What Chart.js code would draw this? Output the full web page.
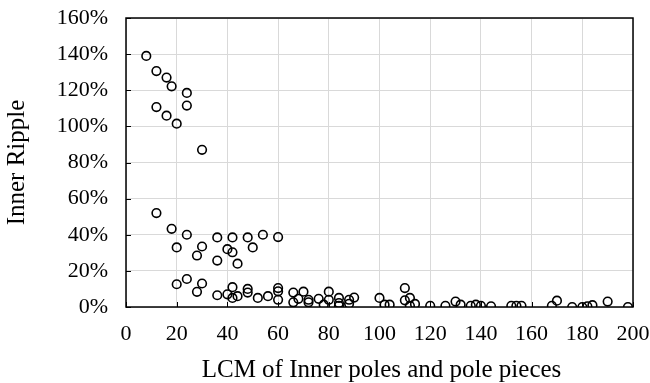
<!DOCTYPE html>
<html>
<head>
<meta charset="utf-8">
<script src="https://cdn.jsdelivr.net/npm/chart.js@4/dist/chart.umd.min.js"></script>
<style>
  html, body { margin: 0; padding: 0; background: #fff; }
  #wrap { width: 650px; height: 383px; }
</style>
</head>
<body>
<div id="wrap"><canvas id="chart"></canvas></div>
<script>
// LCM values (x) and inner ripple in % (y)
const lcmValues = [
    8, 12, 16, 18, 24, 24, 12, 16, 20, 30,
    12, 18, 24, 20, 30, 28, 36, 36, 42, 40, 42, 44, 48, 50, 54, 60,
    20, 24, 30, 28, 36, 40, 42, 42, 44, 48, 48, 52, 56, 60, 60, 60,
    66, 66, 68, 70, 72, 72, 76, 78, 80, 80, 84, 84, 84, 88, 88, 90,
    100, 102, 104, 110, 110, 112, 112, 114, 120, 126, 130, 132, 136, 138, 140, 144,
    152, 154, 156, 168, 170, 176, 180, 182, 184, 190, 198
];
const rippleValues = [
    139, 130.6, 127, 122.2, 118.5, 111.5, 110.7, 105.9, 101.5, 87,
    52, 43.3, 40, 33, 33.5, 28.5, 38.5, 25.7, 38.5, 32, 30.3, 24, 38.5, 33, 40, 38.7,
    12.6, 15.5, 13, 8.4, 6.5, 7, 11, 5, 6, 10, 8, 5, 6, 10.5, 8.7, 4,
    8, 2.6, 4.5, 8.5, 4, 2.6, 4.5, 1.3, 8.5, 4, 5, 2.2, 0.7, 4, 1.8, 5.2,
    5, 1.3, 1.3, 10.5, 3.7, 5, 0.7, 1.7, 0.7, 0.7, 3, 1.3, 0.7, 1.3, 0.7, 0.4,
    0.7, 0.7, 0.7, 0.7, 3.5, 0, 0, 0.4, 1, 3, 0
];
const xTitle = 'LCM of Inner poles and pole pieces';
const yTitle = 'Inner Ripple';

const points = lcmValues.map((x, i) => ({ x: x, y: rippleValues[i] }));
const serif = "'Liberation Serif', 'DejaVu Serif', serif";

// box round the plot, inward tick marks and the x title
const framePlugin = {
    id: 'frame',
    afterDatasetsDraw(chart) {
        const { ctx, chartArea: a, scales } = chart;
        ctx.save();
        ctx.strokeStyle = '#000';
        ctx.lineWidth = 1;
        ctx.beginPath();
        scales.y.ticks.forEach(t => {
            const py = Math.round(scales.y.getPixelForValue(t.value)) + 0.5;
            ctx.moveTo(a.left, py);
            ctx.lineTo(a.left + 5, py);
        });
        scales.x.ticks.forEach(t => {
            const px = Math.round(scales.x.getPixelForValue(t.value)) + 0.5;
            ctx.moveTo(px, a.bottom);
            ctx.lineTo(px, a.bottom - 5);
        });
        ctx.stroke();
        ctx.lineWidth = 1.5;
        ctx.strokeRect(a.left, a.top, a.right - a.left, a.bottom - a.top);

        ctx.fillStyle = '#000';
        ctx.font = '25px ' + serif;
        ctx.textAlign = 'center';
        ctx.textBaseline = 'alphabetic';
        ctx.fillText(xTitle, (a.left + a.right) / 2 + 2, 377);
        ctx.restore();
    }
};

new Chart(document.getElementById('chart'), {
    type: 'scatter',
    data: {
        datasets: [{
            data: points,
            pointRadius: 4.3,
            pointHoverRadius: 4.3,
            pointBorderWidth: 1.6,
            pointBorderColor: '#000',
            pointBackgroundColor: 'rgba(255,255,255,0)'
        }]
    },
    options: {
        responsive: true,
        maintainAspectRatio: false,
        animation: false,
        events: [],
        layout: { padding: { top: 18, right: 17, left: 0, bottom: 0 } },
        plugins: {
            legend: { display: false },
            tooltip: { enabled: false }
        },
        scales: {
            x: {
                type: 'linear',
                min: 0,
                max: 200,
                ticks: {
                    stepSize: 20,
                    padding: 14,
                    color: '#000',
                    font: { family: serif, size: 22 }
                },
                grid: { color: '#d9d9d9', lineWidth: 1, drawTicks: false },
                border: { display: false },
                afterFit: scale => {
                    scale.height = 76;
                    scale.paddingLeft = 0;
                    scale.paddingRight = 0;
                }
            },
            y: {
                type: 'linear',
                min: 0,
                max: 160,
                ticks: {
                    stepSize: 20,
                    padding: 18,
                    color: '#000',
                    font: { family: serif, size: 22 },
                    callback: v => v + '%'
                },
                grid: { color: '#d9d9d9', lineWidth: 1, drawTicks: false },
                border: { display: false },
                title: {
                    display: true,
                    text: yTitle,
                    color: '#000',
                    font: { family: serif, size: 25 },
                    padding: { top: 2, bottom: 0 }
                },
                afterFit: scale => {
                    scale.width = 126;
                    scale.paddingTop = 0;
                    scale.paddingBottom = 0;
                }
            }
        }
    },
    plugins: [framePlugin]
});
</script>
</body>
</html>
